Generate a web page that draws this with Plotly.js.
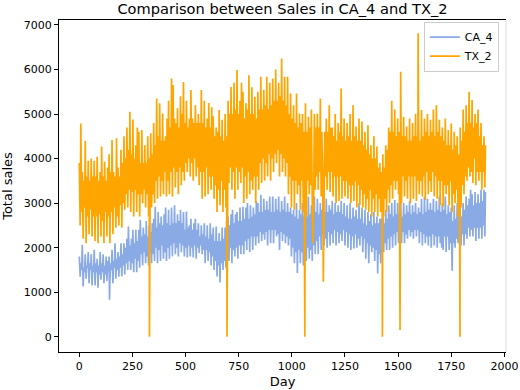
<!DOCTYPE html>
<html>
<head>
<meta charset="utf-8">
<script src="https://cdn.plot.ly/plotly-3.0.1.min.js"></script>
<style>
  html, body { margin: 0; padding: 0; background: #fff; }
  #chart { width: 520px; height: 390px; }
</style>
</head>
<body>
<div id="chart"></div>
<script>
/* ===== Data =====
   one weekly high (day 7*i) and one mid-week low (day 7*i + 4) per week */
const weekLen = 7;
const lowOffset = 4;

const ca4High = [
  1800, 1650, 2065, 1550, 1850, 1600, 1900, 1650, 1850, 1600,
  1950, 1650, 1750, 1600, 1900, 1650, 1850, 1600, 1800, 1700,
  1800, 1650, 1950, 1700, 2100, 1750, 1900, 1800, 2100, 1850,
  2100, 2000, 2200, 2475, 2050, 2200, 2400, 2100, 2400, 2150,
  2400, 2620, 2250, 2450, 2300, 2600, 2250, 2500, 2350, 2550,
  2650, 2920, 2450, 2800, 2550, 2700, 2500, 2750, 2900, 2550,
  2850, 2500, 2900, 2550, 2950, 2550, 2750, 2600, 2850, 2550,
  2800, 2400, 2810, 2450, 2500, 2650, 2400, 2550, 2650, 2400,
  2550, 2250, 2500, 2300, 2550, 2250, 2500, 2200, 2550, 2300,
  2450, 2150, 2475, 2150, 2330, 2150, 2450, 2200, 2450, 2600,
  2700, 2500, 2750, 2850, 2550, 2750, 2800, 2600, 2900, 2600,
  2920, 2650, 2900, 3000, 2650, 2950, 2700, 2900, 2750, 3050,
  3000, 2800, 3185, 2800, 3100, 2850, 3050, 2850, 3150, 2800,
  3150, 2800, 3100, 2850, 3150, 2800, 3050, 2850, 3150, 2800,
  3000, 2800, 2900, 2750, 2850, 2700, 3000, 2650, 2850, 2750,
  3000, 2700, 3100, 2700, 3150, 2750, 2950, 2800, 3150, 2800,
  3100, 2750, 3000, 2850, 2900, 2800, 3100, 2800, 2950, 2850,
  3050, 2750, 3000, 2800, 2950, 2800, 3050, 2750, 3000, 2700,
  2950, 2650, 3000, 2650, 2900, 2700, 2850, 2650, 3000, 2650,
  2900, 2550, 2850, 2500, 2800, 2600, 2750, 2500, 2800, 2550,
  2700, 2550, 2650, 2650, 2800, 2550, 2850, 2650, 2950, 2750,
  3000, 2700, 3070, 2750, 3000, 2750, 3050, 2700, 3000, 2750,
  2950, 2800, 3050, 2750, 2950, 2800, 3000, 2750, 2900, 2800,
  3100, 2750, 3150, 2800, 3100, 2850, 3000, 2850, 3100, 2800,
  3050, 2850, 3150, 2800, 3000, 2850, 3150, 2750, 2950, 2800,
  2900, 2600, 2950, 2650, 3000, 2700, 2850, 2700, 3000, 2850,
  3150, 2950, 3100, 3300, 3200, 2950, 3250, 3000, 3200, 3000,
  3300, 3050, 3300, 3250
];

const ca4Low = [
  1350, 1500, 1130, 1450, 1300, 1550, 1200, 1500, 1150, 1450,
  1150, 1450, 1100, 1400, 1280, 1450, 1200, 1400, 1250, 1450,
  1250, 1500, 1200, 1550, 1300, 1500, 1350, 1550, 1350, 1600,
  1400, 1650, 1500, 1700, 1500, 1650, 1450, 1750, 1450, 1700,
  1550, 1850, 1600, 1900, 1650, 1800, 1600, 1900, 1650, 1850,
  1700, 2000, 1650, 1950, 1700, 2050, 1750, 1900, 1700, 2000,
  1750, 2050, 1800, 2100, 1850, 2000, 1800, 2100, 1900, 2050,
  1800, 2000, 1780, 2050, 1800, 2000, 1780, 2050, 1750, 2000,
  1880, 2050, 1850, 1950, 1650, 1950, 1700, 1900, 1600, 1800,
  1500, 1700, 1350, 1600, 1220, 1650, 1500, 1700, 1550, 1850,
  1700, 2000, 1650, 1950, 1800, 2000, 1750, 2050, 1850, 2050,
  1850, 2150, 1950, 2200, 1900, 2250, 1950, 2250, 2050, 2250,
  2100, 2350, 2150, 2300, 2180, 2350, 2050, 2400, 2100, 2400,
  2100, 2400, 2250, 2300, 1950, 2350, 2150, 2300, 2100, 2250,
  2050, 2200, 1800, 2000, 1650, 1900, 1430, 1950, 1650, 1900,
  1600, 1800, 1700, 2000, 1750, 1950, 1700, 2050, 1850, 2150,
  1850, 2250, 1950, 2300, 2050, 2200, 2000, 2350, 2050, 2300,
  2100, 2400, 2050, 2350, 2100, 2300, 2150, 2400, 2050, 2350,
  2000, 2300, 1950, 2250, 1980, 2300, 2000, 2200, 2050, 2250,
  1900, 2200, 1750, 2100, 1650, 2050, 1900, 2000, 1700, 1950,
  1420, 1850, 1650, 1900, 1900, 2100, 1950, 2200, 1950, 2250,
  2000, 2300, 2050, 2350, 2100, 2300, 2100, 2350, 2100, 2300,
  2200, 2400, 2250, 2350, 2200, 2400, 2250, 2400, 2100, 2350,
  2050, 2300, 2100, 2250, 2050, 2250, 2000, 2300, 2050, 2250,
  2000, 2250, 2100, 2000, 1950, 2250, 1900, 2250, 1950, 2100,
  1480, 2100, 2000, 2200, 2100, 2250, 2050, 2300, 2050, 2300,
  2200, 2450, 2250, 2400, 2250, 2450, 2150, 2450, 2200, 2450,
  2200, 2500, 2250
];

const tx2High = [
  3900, 4790, 3700, 3500, 4400, 3600, 3950, 3500, 4000, 3600,
  3950, 3600, 4040, 3500, 3700, 4270, 3600, 3930, 3500, 3800,
  4100, 3700, 4420, 3700, 3600, 4455, 3800, 3600, 4200, 3900,
  4500, 4000, 4700, 4200, 5050, 4100, 4880, 4000, 4300, 4700,
  4600, 3900, 4640, 3900, 4300, 3900, 4500, 4000, 4570, 4100,
  4800, 4300, 5350, 4500, 5240, 4400, 5015, 4400, 4500, 4900,
  5300, 4700, 5800, 5650, 4900, 4800, 5130, 4700, 5400, 5000,
  5720, 4800, 5300, 4700, 4900, 5540, 4900, 4800, 5200, 4800,
  5000, 4800, 5540, 4800, 5300, 4700, 4900, 5250, 4700, 5150,
  4950, 4500, 4700, 4600, 5090, 4500, 4870, 4400, 5000, 4500,
  5300, 5000, 5610, 5000, 5700, 5100, 5990, 5000, 5300, 5700,
  5500, 4900, 5240, 5100, 5870, 5000, 5600, 5000, 5390, 4900,
  5500, 5100, 5840, 5100, 5540, 5200, 5840, 5100, 5700, 5200,
  5800, 5300, 6000, 5300, 5700, 5400, 6250, 5300, 5840, 5200,
  5840, 5000, 5460, 4900, 5200, 4800, 5460, 4700, 5015, 4800,
  5000, 4600, 5240, 4600, 4940, 4700, 5100, 4500, 5000, 4700,
  5015, 4700, 5350, 4600, 5100, 4600, 4900, 4600, 5200, 4700,
  4700, 4500, 5000, 4400, 4800, 4600, 5575, 4500, 4900, 4400,
  4800, 4500, 5000, 4400, 5200, 4500, 4720, 4400, 4900, 4400,
  4830, 4300, 4600, 4200, 4750, 4100, 4300, 4000, 4500, 4000,
  4270, 3800, 3900, 3700, 4100, 3800, 4300, 4200, 4700, 4600,
  5300, 4600, 5100, 4500, 4900, 4600, 4800, 4500, 4940, 4500,
  4720, 4400, 4900, 4400, 4800, 4500, 5000, 4500, 4870, 4400,
  5090, 4500, 4900, 4600, 5000, 4500, 4870, 4600, 5100, 4500,
  5200, 4600, 4870, 4500, 4700, 4400, 4900, 4300, 4640, 4300,
  4790, 4200, 4600, 4300, 4500, 4100, 4700, 4400, 5100, 4600,
  5200, 4800, 5500, 4800, 5315, 4700, 5000, 4800, 5100, 4500,
  4800, 4300, 4500, 4300
];

const tx2Low = [
  2500, 2800, 2200, 2900, 2100, 2700, 2300, 2850, 2250, 2700,
  2150, 2700, 2100, 2750, 2250, 2600, 2100, 2800, 2250, 2700,
  2100, 2800, 2300, 2900, 2450, 2700, 2500, 2950, 2450, 3000,
  2850, 3200, 2900, 3300, 2800, 3250, 2700, 3300, 2800, 3200,
  2700, 3200, 3000, 3300, 2900, 3200, 2700, 3100, 2900, 3200,
  3000, 3500, 3100, 3600, 3150, 3500, 3200, 3700, 3150, 3500,
  3200, 3700, 3150, 3800, 3350, 3700, 3200, 3800, 3400, 3700,
  3500, 3900, 3700, 4000, 3600, 3900, 3500, 4000, 3600, 3800,
  3400, 3700, 3100, 3700, 3150, 3800, 3200, 3600, 3300, 3600,
  3100, 3400, 2800, 3300, 2950, 3500, 2800, 3300, 2900, 3300,
  3450, 3800, 3300, 3700, 3100, 3800, 3300, 3700, 3450, 3800,
  3000, 3600, 3100, 3700, 3200, 3500, 3300, 3600, 3000, 3600,
  3300, 3900, 3450, 4000, 3500, 3900, 3600, 4100, 3500, 4000,
  3700, 4100, 3900, 4200, 3600, 4100, 3700, 4000, 3600, 3900,
  3200, 3600, 2900, 3500, 2850, 3500, 3200, 3400, 2850, 3500,
  2800, 3400, 2700, 3500, 3200, 3400, 3000, 3300, 3300, 3600,
  3300, 3700, 3150, 3700, 3250, 3600, 3300, 3700, 3250, 3700,
  3150, 3600, 3000, 3600, 3050, 3600, 3100, 3500, 3150, 3500,
  3100, 3400, 3000, 3400, 3050, 3500, 2900, 3400, 2950, 3300,
  2900, 3200, 2850, 3100, 2800, 3300, 2700, 3100, 2800, 3200,
  2700, 3100, 2800, 3200, 2700, 3100, 2800, 3300, 3000, 3400,
  3100, 3500, 3300, 3500, 3200, 3600, 3000, 3600, 3150, 3500,
  3100, 3600, 3000, 3600, 3100, 3600, 3050, 3500, 3200, 3500,
  3150, 3600, 3070, 3700, 3200, 3500, 3250, 3700, 3150, 3600,
  3100, 3500, 2950, 3500, 2920, 3400, 3200, 3400, 2950, 3500,
  2800, 3200, 3000, 3300, 2700, 3100, 2900, 3400, 3200, 3600,
  3500, 3800, 3600, 3700, 3450, 4000, 3400, 3700, 3500, 3700,
  3300, 3700, 3350
];

// single days that stick out of the band (Christmas closures, odd spikes)
const ca4SpikeDays = [142];
const ca4SpikeVals = [830];
const tx2SpikeDays = [330, 695, 1061, 1099, 1148, 1426, 1509, 1512, 1594, 1791];
const tx2SpikeVals = [0, 0, 0, 2100, 1235, 0, 150, 5950, 6815, 0];

const xTicks = [0, 250, 500, 750, 1000, 1250, 1500, 1750, 2000];
const yTicks = [0, 1000, 2000, 3000, 4000, 5000, 6000, 7000];

/* ===== Helpers ===== */
function buildSeries(highs, lows, spikeDays, spikeVals) {
    const byDay = new Map();
    highs.forEach((v, i) => byDay.set(i * weekLen, v));
    lows.forEach((v, i) => byDay.set(i * weekLen + lowOffset, v));
    spikeDays.forEach((d, i) => byDay.set(d, spikeVals[i]));
    const days = [...byDay.keys()].sort((a, b) => a - b);
    return { x: days, y: days.map(d => byDay.get(d)) };
}

const ca4 = buildSeries(ca4High, ca4Low, ca4SpikeDays, ca4SpikeVals);
const tx2 = buildSeries(tx2High, tx2Low, tx2SpikeDays, tx2SpikeVals);

/* ===== Plot ===== */
const traces = [
    {
        type: "scatter", mode: "lines", name: "CA_4",
        x: ca4.x, y: ca4.y,
        line: { color: "#8aaae5", width: 1.7 }
    },
    {
        type: "scatter", mode: "lines", name: "TX_2",
        x: tx2.x, y: tx2.y,
        line: { color: "#ffa500", width: 1.7 }
    }
];

const layout = {
    width: 520, height: 390,
    margin: { l: 59, r: 14, t: 20, b: 38 },
    paper_bgcolor: "#fff", plot_bgcolor: "#fff",
    font: { family: "DejaVu Sans", size: 11, color: "#000" },
    title: {
        text: "Comparison between Sales in CA_4 and TX_2",
        font: { size: 14.6 },
        x: 0.5, xref: "paper", xanchor: "center",
        y: 1 - 9 / 390, yref: "container", yanchor: "middle"
    },
    showlegend: true,
    legend: {
        x: 0.984, xanchor: "right", y: 0.995, yanchor: "top",
        bgcolor: "rgba(255,255,255,0.8)", bordercolor: "#cccccc", borderwidth: 1,
        font: { size: 11 }, itemwidth: 30, tracegroupgap: 0
    },
    xaxis: {
        range: [-95.6, 2007.6],
        tickvals: xTicks, ticks: "outside", ticklen: 4, tickcolor: "#000",
        showline: true, linecolor: "#000", linewidth: 1, mirror: true,
        showgrid: false, zeroline: false,
        title: { text: "Day", standoff: 4 }
    },
    yaxis: {
        range: [-343, 7112],
        tickvals: yTicks, ticks: "outside", ticklen: 4, tickcolor: "#000",
        showline: true, linecolor: "#000", linewidth: 1,
        showgrid: false, zeroline: false,
        title: { text: "Total sales", standoff: 8 }
    },
    shapes: [
        { type: "line", xref: "paper", yref: "paper", x0: 1, x1: 1, y0: 0, y1: 1,
          line: { color: "#dcdcdc", width: 1 } }
    ]
};

Plotly.newPlot("chart", traces, layout, { displayModeBar: false, staticPlot: true });
</script>
</body>
</html>
